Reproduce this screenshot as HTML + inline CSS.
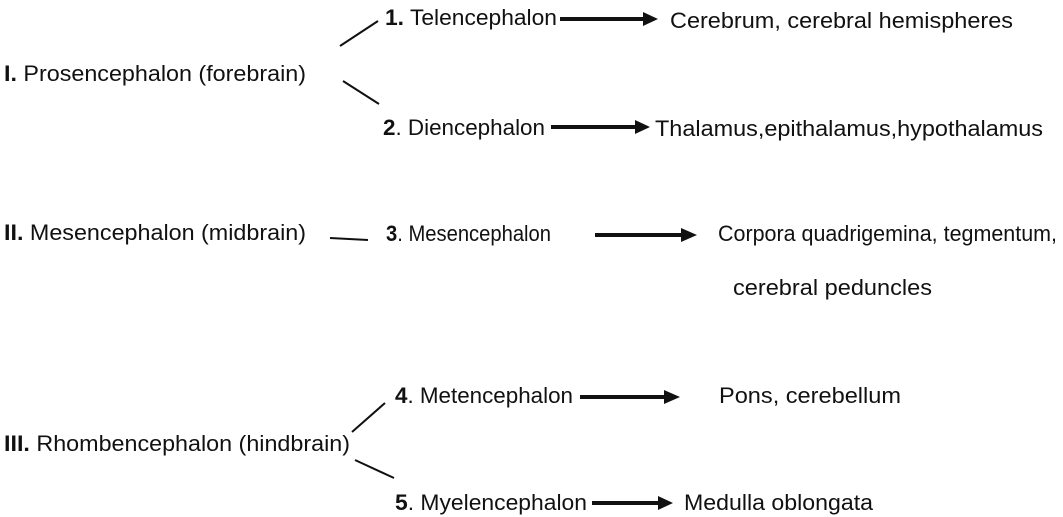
<!DOCTYPE html>
<html><head><meta charset="utf-8"><style>
html,body{margin:0;padding:0;background:#fff;}
svg{display:block;}
text{font-family:"Liberation Sans",sans-serif;font-size:22px;fill:#111;}
.b{font-weight:bold;}
</style></head><body>
<svg width="1063" height="517" viewBox="0 0 1063 517" xmlns="http://www.w3.org/2000/svg">
<g stroke="#111" stroke-width="2" fill="none">
<line x1="340" y1="46" x2="378" y2="21"/>
<line x1="343" y1="81" x2="379" y2="104"/>
<line x1="330" y1="238" x2="368" y2="240"/>
<line x1="352" y1="432" x2="385" y2="403"/>
<line x1="355" y1="460" x2="394" y2="478"/>
</g>
<g fill="#111">
<rect x="560" y="17" width="85" height="4"/><path d="M643,12 L658,19 L643,26z"/>
<rect x="551" y="125" width="86" height="4"/><path d="M635,120 L650,127 L635,134z"/>
<rect x="595" y="233" width="88" height="4"/><path d="M681,228 L697,235 L681,242z"/>
<rect x="580" y="395" width="86" height="4"/><path d="M664,390 L680,397 L664,404z"/>
<rect x="592" y="501" width="68" height="4"/><path d="M658,496 L673,503 L658,510z"/>
</g>
<text x="4" y="81" textLength="302" lengthAdjust="spacingAndGlyphs"><tspan class="b">I.</tspan> Prosencephalon (forebrain)</text>
<text x="385" y="25" textLength="172" lengthAdjust="spacingAndGlyphs"><tspan class="b">1.</tspan> Telencephalon</text>
<text x="670" y="28" textLength="343" lengthAdjust="spacingAndGlyphs">Cerebrum, cerebral hemispheres</text>
<text x="383" y="135" textLength="162" lengthAdjust="spacingAndGlyphs"><tspan class="b">2</tspan>. Diencephalon</text>
<text x="655" y="136" textLength="388" lengthAdjust="spacingAndGlyphs">Thalamus,epithalamus,hypothalamus</text>
<text x="4" y="240" textLength="302" lengthAdjust="spacingAndGlyphs"><tspan class="b">II.</tspan> Mesencephalon (midbrain)</text>
<text x="386" y="241" textLength="165" lengthAdjust="spacingAndGlyphs"><tspan class="b">3</tspan>. Mesencephalon</text>
<text x="718" y="241" textLength="339" lengthAdjust="spacingAndGlyphs">Corpora quadrigemina, tegmentum,</text>
<text x="733" y="295" textLength="199" lengthAdjust="spacingAndGlyphs">cerebral peduncles</text>
<text x="395" y="403" textLength="178" lengthAdjust="spacingAndGlyphs"><tspan class="b">4</tspan>. Metencephalon</text>
<text x="719" y="403" textLength="182" lengthAdjust="spacingAndGlyphs">Pons, cerebellum</text>
<text x="4" y="451" textLength="346" lengthAdjust="spacingAndGlyphs"><tspan class="b">III.</tspan> Rhombencephalon (hindbrain)</text>
<text x="395" y="510" textLength="192" lengthAdjust="spacingAndGlyphs"><tspan class="b">5</tspan>.  Myelencephalon</text>
<text x="684" y="510" textLength="189" lengthAdjust="spacingAndGlyphs">Medulla oblongata</text>
</svg>
</body></html>
